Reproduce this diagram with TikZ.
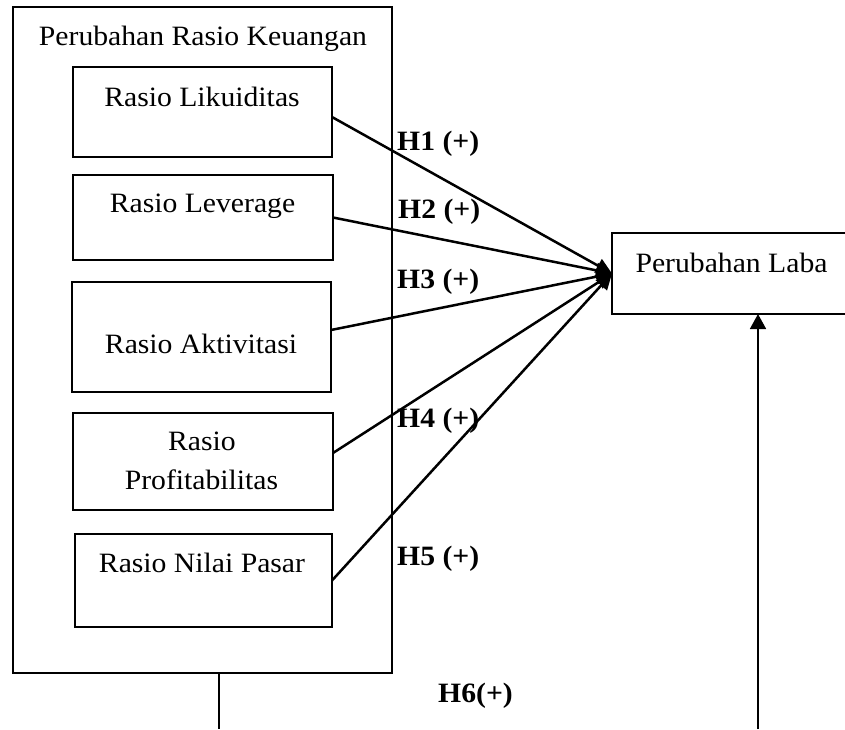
\documentclass[tikz,border=0pt]{standalone}
\usepackage{fontspec}
\setmainfont{Liberation Serif}[FakeStretch=1.06]
\usetikzlibrary{arrows.meta}
\begin{document}
\begin{tikzpicture}[x=1pt,y=-1pt,
  box/.style={draw, line width=1.4pt, inner sep=0pt, outer sep=0pt},
  txt/.style={anchor=base, inner sep=0pt, font=\fontsize{28}{30}\selectfont},
  hyp/.style={anchor=base west, inner sep=0pt, font=\fontsize{28}{30}\selectfont\bfseries},
  arr/.style={line width=2.5pt, -{Triangle[length=16pt,width=15pt]}},
  vline/.style={line width=1.7pt}]
\useasboundingbox (0,0) rectangle (845,729);
% outer box
\node[box, line width=1.6pt, minimum width=379pt, minimum height=666pt] (outer) at (202.5,340) {};
\node[txt] (title) at (203,45) {Perubahan Rasio Keuangan};
% inner boxes
\node[box, minimum width=259pt, minimum height=90pt] (b1) at (202.5,112) {};
\node[box, minimum width=260pt, minimum height=85pt] (b2) at (203,217.5) {};
\node[box, minimum width=259pt, minimum height=110pt] (b3) at (201.5,337) {};
\node[box, minimum width=260pt, minimum height=97pt] (b4) at (203,461.5) {};
\node[box, minimum width=257pt, minimum height=93pt] (b5) at (203.5,580.5) {};
\node[txt] (t1) at (202,106) {Rasio Likuiditas};
\node[txt] (t2) at (202.5,212) {Rasio Leverage};
\node[txt] (t3) at (201,353) {Rasio Aktivitasi};
\node[txt] (t4a) at (202,450) {Rasio};
\node[txt] (t4b) at (201.5,489) {Profitabilitas};
\node[txt] (t5) at (202,572) {Rasio Nilai Pasar};
% target box
\node[box, anchor=west, minimum width=250pt, minimum height=81pt] (laba) at (612,273.5) {};
\node[txt] (tl) at (731.5,272) {Perubahan Laba};
% hypothesis labels
\node[hyp] (h1) at (397,150) {H1 (+)};
\node[hyp] (h2) at (398,218) {H2 (+)};
\node[hyp] (h3) at (397,288) {H3 (+)};
\node[hyp] (h4) at (397,427) {H4 (+)};
\node[hyp] (h5) at (397,565) {H5 (+)};
\node[hyp] (h6) at (438,702) {H6(+)};
% arrows
\draw[arr] ([yshift=-5pt]b1.east) -- (laba.west);
\draw[arr] (b2.east) -- (laba.west);
\draw[arr] ([yshift=7pt]b3.east) -- (laba.west);
\draw[arr] ([yshift=8.5pt]b4.east) -- (laba.west);
\draw[arr] (b5.east) -- (laba.west);
% H6 lines
\coordinate (ob) at (219,729);
\coordinate (rb) at (758,729);
\draw[vline] (outer.south -| ob) -- (ob);
\draw[vline, -{Triangle[length=15pt,width=16pt]}] (rb) -- (laba.south -| rb);
\end{tikzpicture}
\end{document}
